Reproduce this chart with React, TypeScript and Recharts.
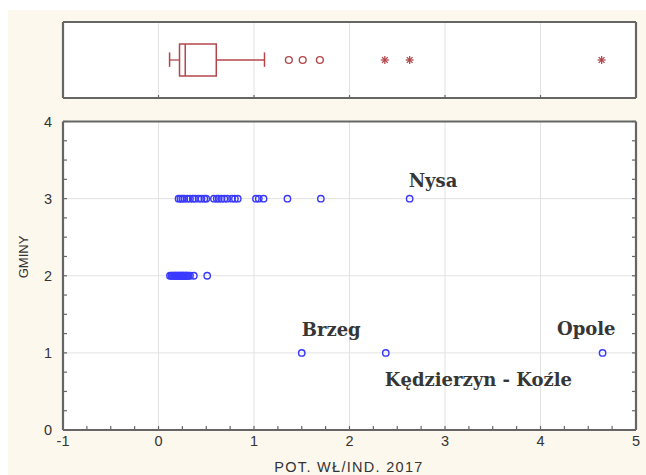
import React from "react";
import {
  ScatterChart,
  Scatter,
  XAxis,
  YAxis,
  CartesianGrid,
  ReferenceArea,
  ReferenceLine,
} from "recharts";

// POT. WŁ/IND. 2017 per gmina, grouped by GMINY type
const GMINY_3 = [
  0.21, 0.23, 0.25, 0.27, 0.3, 0.33, 0.36, 0.38, 0.42, 0.45, 0.48, 0.5,
  0.58, 0.61, 0.63, 0.66, 0.69, 0.72, 0.77, 0.8, 0.83, 1.02, 1.05, 1.1,
  1.35, 1.7,
];
const GMINY_2 = [
  0.12, 0.135, 0.145, 0.16, 0.17, 0.18, 0.19, 0.2, 0.215, 0.22, 0.235,
  0.24, 0.255, 0.26, 0.27, 0.285, 0.29, 0.3, 0.315, 0.33, 0.37, 0.51,
];
const NAMED = [
  { name: "Nysa", x: 2.63, y: 3 },
  { name: "Brzeg", x: 1.5, y: 1 },
  { name: "Kędzierzyn - Koźle", x: 2.38, y: 1 },
  { name: "Opole", x: 4.65, y: 1 },
];

// box plot summary of the same variable
const BOX_STATS = { min: 0.116, q1: 0.22, median: 0.28, q3: 0.605, max: 1.11 };
const OUTLIERS = [1.365, 1.51, 1.69];
const EXTREMES = [2.37, 2.63, 4.64];

const X_TICKS = [-1, 0, 1, 2, 3, 4, 5];
const X_MINOR = Array.from({ length: 25 }, (_, i) => -1 + i * 0.25);
const Y_MINOR = Array.from({ length: 17 }, (_, i) => i * 0.25);

const CREAM = "#fdf8ed";
const FRAME = "#666666";
const GRID = "#e2e2e2";
const RED = "#b2474b";
const BLUE = "#3a3aff";
const TICK_FONT = { fontFamily: "Liberation Sans, Arial, sans-serif", fontSize: 14.5, fill: "#333333" };

const LABEL_POS: Record<string, { dx: number; dy: number; anchor: "start" | "end" }> = {
  Nysa: { dx: -1, dy: -12, anchor: "start" },
  Brzeg: { dx: 0, dy: -17, anchor: "start" },
  "Kędzierzyn - Koźle": { dx: -1, dy: 33, anchor: "start" },
  Opole: { dx: 13, dy: -18, anchor: "end" },
};

const pointsOf = (xs: number[], y: number) => xs.map((x) => ({ x, y }));
const mainPoints = [...pointsOf(GMINY_3, 3), ...pointsOf(GMINY_2, 2)];

const blank = () => <g />;

const ring = (p: any) => (
  <circle cx={p.cx} cy={p.cy} r={3.2} fill="none" stroke={BLUE} strokeWidth={1.4} />
);

const namedRing = (p: any) => {
  const pos = LABEL_POS[p.payload.name];
  return (
    <g>
      {ring(p)}
      <text
        x={p.cx + pos.dx}
        y={p.cy + pos.dy}
        textAnchor={pos.anchor}
        fontFamily="DejaVu Serif, serif"
        fontWeight="bold"
        fontSize={18}
        fill="#363636"
      >
        {p.payload.name}
      </text>
    </g>
  );
};

const outlierRing = (p: any) => (
  <circle cx={p.cx} cy={p.cy} r={3.4} fill="none" stroke={RED} strokeWidth={1.4} />
);

const asterisk = (p: any) => {
  const r = 4;
  const d = r * 0.72;
  return (
    <g stroke={RED} strokeWidth={1.3}>
      <line x1={p.cx - r} y1={p.cy} x2={p.cx + r} y2={p.cy} />
      <line x1={p.cx} y1={p.cy - r} x2={p.cx} y2={p.cy + r} />
      <line x1={p.cx - d} y1={p.cy - d} x2={p.cx + d} y2={p.cy + d} />
      <line x1={p.cx - d} y1={p.cy + d} x2={p.cx + d} y2={p.cy - d} />
    </g>
  );
};

const xTick = (p: any) => {
  const v = p.payload.value;
  if (!Number.isInteger(v)) return <g />;
  return (
    <text x={p.x} y={p.y + 20} textAnchor="middle" {...TICK_FONT}>
      {v}
    </text>
  );
};

const yTick = (p: any) => {
  const v = p.payload.value;
  if (!Number.isInteger(v)) return <g />;
  return (
    <text x={p.x - 15} y={p.y} textAnchor="end" dominantBaseline="central" {...TICK_FONT}>
      {v}
    </text>
  );
};

const frameLine = { stroke: FRAME, strokeWidth: 2.2 };
const tickLine = { stroke: FRAME, strokeWidth: 1.2 };

function BoxPanel() {
  const mid = 0.5;
  return (
    <ScatterChart width={638} height={100} margin={{ top: 12, right: 10, bottom: 12, left: 55 }}>
      <CartesianGrid
        xAxisId="b"
        yAxisId="l"
        fill="#ffffff"
        stroke={GRID}
        horizontal={false}
        verticalValues={[0, 1, 2, 3, 4]}
      />
      <XAxis xAxisId="b" type="number" dataKey="x" domain={[-1, 5]} allowDataOverflow ticks={X_TICKS}
        interval={0} mirror tickSize={3} tickMargin={0} tick={blank} tickLine={tickLine} axisLine={frameLine} />
      <XAxis xAxisId="t" orientation="top" type="number" domain={[-1, 5]} allowDataOverflow ticks={X_TICKS}
        interval={0} mirror tickSize={3} tickMargin={0} tick={blank} tickLine={tickLine} axisLine={frameLine} />
      <YAxis yAxisId="l" type="number" dataKey="y" domain={[0, 1]} allowDataOverflow mirror
        tick={false} tickLine={false} axisLine={frameLine} />
      <YAxis yAxisId="r" orientation="right" type="number" domain={[0, 1]} allowDataOverflow mirror
        tick={false} tickLine={false} axisLine={frameLine} />

      <ReferenceArea xAxisId="b" yAxisId="l" x1={BOX_STATS.q1} x2={BOX_STATS.q3} y1={0.29} y2={0.71}
        fill="none" stroke={RED} strokeWidth={1.5} fillOpacity={0} strokeOpacity={1} />
      <ReferenceLine xAxisId="b" yAxisId="l" stroke={RED} strokeWidth={1.5}
        segment={[{ x: BOX_STATS.median, y: 0.29 }, { x: BOX_STATS.median, y: 0.71 }]} />
      <ReferenceLine xAxisId="b" yAxisId="l" stroke={RED} strokeWidth={1.3}
        segment={[{ x: BOX_STATS.min, y: mid }, { x: BOX_STATS.q1, y: mid }]} />
      <ReferenceLine xAxisId="b" yAxisId="l" stroke={RED} strokeWidth={1.3}
        segment={[{ x: BOX_STATS.q3, y: mid }, { x: BOX_STATS.max, y: mid }]} />
      <ReferenceLine xAxisId="b" yAxisId="l" stroke={RED} strokeWidth={1.5}
        segment={[{ x: BOX_STATS.min, y: 0.41 }, { x: BOX_STATS.min, y: 0.6 }]} />
      <ReferenceLine xAxisId="b" yAxisId="l" stroke={RED} strokeWidth={1.5}
        segment={[{ x: BOX_STATS.max, y: 0.41 }, { x: BOX_STATS.max, y: 0.6 }]} />

      <Scatter xAxisId="b" yAxisId="l" data={pointsOf(OUTLIERS, mid)} shape={outlierRing} isAnimationActive={false} />
      <Scatter xAxisId="b" yAxisId="l" data={pointsOf(EXTREMES, mid)} shape={asterisk} isAnimationActive={false} />
    </ScatterChart>
  );
}

function MainPanel() {
  return (
    <ScatterChart width={638} height={365} margin={{ top: 11.5, right: 10, bottom: 45, left: 55 }}>
      <CartesianGrid
        xAxisId="b"
        yAxisId="l"
        fill="#ffffff"
        stroke={GRID}
        verticalValues={[0, 1, 2, 3, 4]}
        horizontalValues={[1, 2, 3]}
      />
      <XAxis xAxisId="b" type="number" dataKey="x" domain={[-1, 5]} allowDataOverflow ticks={X_MINOR}
        interval={0} mirror tickSize={4} tickMargin={0} tick={xTick} tickLine={tickLine} axisLine={frameLine} />
      <XAxis xAxisId="t" orientation="top" type="number" domain={[-1, 5]} allowDataOverflow ticks={X_MINOR}
        interval={0} mirror tickSize={4} tickMargin={0} tick={blank} tickLine={tickLine} axisLine={frameLine} />
      <YAxis yAxisId="l" type="number" dataKey="y" domain={[0, 4]} allowDataOverflow ticks={Y_MINOR}
        interval={0} mirror tickSize={4} tickMargin={0} tick={yTick} tickLine={tickLine} axisLine={frameLine} />
      <YAxis yAxisId="r" orientation="right" type="number" domain={[0, 4]} allowDataOverflow ticks={Y_MINOR}
        interval={0} mirror tickSize={4} tickMargin={0} tick={blank} tickLine={tickLine} axisLine={frameLine} />

      <Scatter xAxisId="b" yAxisId="l" data={mainPoints} shape={ring} isAnimationActive={false} />
      <Scatter xAxisId="b" yAxisId="l" data={NAMED} shape={namedRing} isAnimationActive={false} />
    </ScatterChart>
  );
}

export default function App() {
  return (
    <div style={{ position: "absolute", left: 8, top: 10, width: 638, height: 465, background: CREAM }}>
      <div style={{ position: "absolute", left: 0, top: 0 }}>
        <BoxPanel />
      </div>
      <div style={{ position: "absolute", left: 0, top: 100 }}>
        <MainPanel />
      </div>
      <div
        style={{
          position: "absolute",
          left: 15,
          top: 247,
          transform: "translate(-50%, -50%) rotate(-90deg)",
          font: "13px 'Liberation Sans', Arial, sans-serif",
          color: "#333333",
          whiteSpace: "nowrap",
        }}
      >
        GMINY
      </div>
      <div
        style={{
          position: "absolute",
          left: 341,
          top: 457,
          transform: "translate(-50%, -50%)",
          font: "14.5px 'Liberation Sans', Arial, sans-serif",
          letterSpacing: 1.3,
          color: "#333333",
          whiteSpace: "nowrap",
        }}
      >
        POT. WŁ/IND. 2017
      </div>
    </div>
  );
}
